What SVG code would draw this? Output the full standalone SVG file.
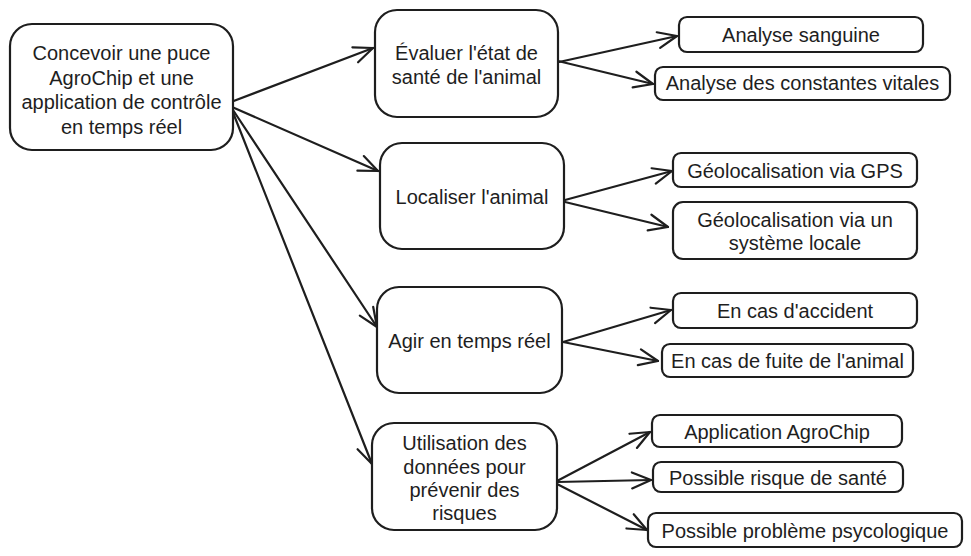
<svg xmlns="http://www.w3.org/2000/svg" width="971" height="556" viewBox="0 0 971 556">
<defs>
<style>
.box{fill:#fff;stroke:#1e1e1e;stroke-width:2.2}
.t{font-family:"Liberation Sans",Arial,sans-serif;font-size:20px;fill:#1e1e1e;text-anchor:middle}
.c{fill:none;stroke:#1e1e1e;stroke-width:2.2;stroke-linecap:round}
</style>
<marker id="ah" markerUnits="userSpaceOnUse" viewBox="-22 -12 26 24" refX="0" refY="0" markerWidth="26" markerHeight="24" orient="auto" overflow="visible">
<path d="M-19,-8 L0,0 L-19,8" fill="none" stroke="#1e1e1e" stroke-width="2.2" stroke-linecap="round" stroke-linejoin="round"/>
</marker>
</defs>
<rect width="971" height="556" fill="#fff"/>
<g id="connectors">
<path class="c" marker-end="url(#ah)" d="M231,102 L373,48"/>
<path class="c" marker-end="url(#ah)" d="M232,107 L378,171"/>
<path class="c" marker-end="url(#ah)" d="M233,110 L377,327"/>
<path class="c" marker-end="url(#ah)" d="M232,110 L372,464"/>
<path class="c" marker-end="url(#ah)" d="M559,62 L677,36"/>
<path class="c" marker-end="url(#ah)" d="M558,61 L653,84"/>
<path class="c" marker-end="url(#ah)" d="M565,200 L672,171"/>
<path class="c" marker-end="url(#ah)" d="M565,202 L668,227"/>
<path class="c" marker-end="url(#ah)" d="M563,342 L671,310"/>
<path class="c" marker-end="url(#ah)" d="M563,342 L658,361"/>
<path class="c" marker-end="url(#ah)" d="M557,481 L650,432"/>
<path class="c" marker-end="url(#ah)" d="M557,482 L651,480"/>
<path class="c" marker-end="url(#ah)" d="M557,484 L647,530"/>
</g>
<g id="root">
<rect class="box" x="10" y="24" width="223" height="126" rx="22"/>
<text class="t" x="121.5" y="60">Concevoir une puce</text>
<text class="t" x="121.5" y="85">AgroChip et une</text>
<text class="t" x="121.5" y="109">application de contrôle</text>
<text class="t" x="121.5" y="134">en temps réel</text>
</g>
<g id="n-evaluer">
<rect class="box" x="375" y="10" width="183" height="107" rx="22"/>
<text class="t" x="466.5" y="60">Évaluer l'état de</text>
<text class="t" x="466.5" y="84">santé de l'animal</text>
</g>
<g id="n-localiser">
<rect class="box" x="380" y="143" width="184" height="106" rx="22"/>
<text class="t" x="472" y="204">Localiser l'animal</text>
</g>
<g id="n-agir">
<rect class="box" x="377" y="287" width="185" height="106" rx="22"/>
<text class="t" x="469.5" y="348">Agir en temps réel</text>
</g>
<g id="n-utilisation">
<rect class="box" x="372" y="423" width="185" height="107" rx="22"/>
<text class="t" x="464.5" y="450">Utilisation des</text>
<text class="t" x="464.5" y="474">données pour</text>
<text class="t" x="464.5" y="497">prévenir des</text>
<text class="t" x="464.5" y="520">risques</text>
</g>
<g id="l-sanguine">
<rect class="box" x="679" y="17" width="244" height="35" rx="8"/>
<text class="t" x="801" y="42">Analyse sanguine</text>
</g>
<g id="l-constantes">
<rect class="box" x="655" y="67" width="295" height="33" rx="8"/>
<text class="t" x="802.5" y="90">Analyse des constantes vitales</text>
</g>
<g id="l-gps">
<rect class="box" x="673" y="153" width="244" height="34" rx="8"/>
<text class="t" x="795" y="178">Géolocalisation via GPS</text>
</g>
<g id="l-systeme">
<rect class="box" x="673" y="202" width="244" height="57" rx="10"/>
<text class="t" x="795" y="227">Géolocalisation via un</text>
<text class="t" x="795" y="250">système locale</text>
</g>
<g id="l-accident">
<rect class="box" x="673" y="293" width="244" height="35" rx="8"/>
<text class="t" x="795" y="318">En cas d'accident</text>
</g>
<g id="l-fuite">
<rect class="box" x="662" y="344" width="251" height="33" rx="8"/>
<text class="t" x="787.5" y="368">En cas de fuite de l'animal</text>
</g>
<g id="l-application">
<rect class="box" x="652" y="415" width="250" height="32" rx="8"/>
<text class="t" x="777" y="439">Application AgroChip</text>
</g>
<g id="l-sante">
<rect class="box" x="653" y="462" width="250" height="30" rx="8"/>
<text class="t" x="778" y="485">Possible risque de santé</text>
</g>
<g id="l-psycologique">
<rect class="box" x="648" y="513" width="314" height="34" rx="8"/>
<text class="t" x="805" y="538">Possible problème psycologique</text>
</g>
</svg>
